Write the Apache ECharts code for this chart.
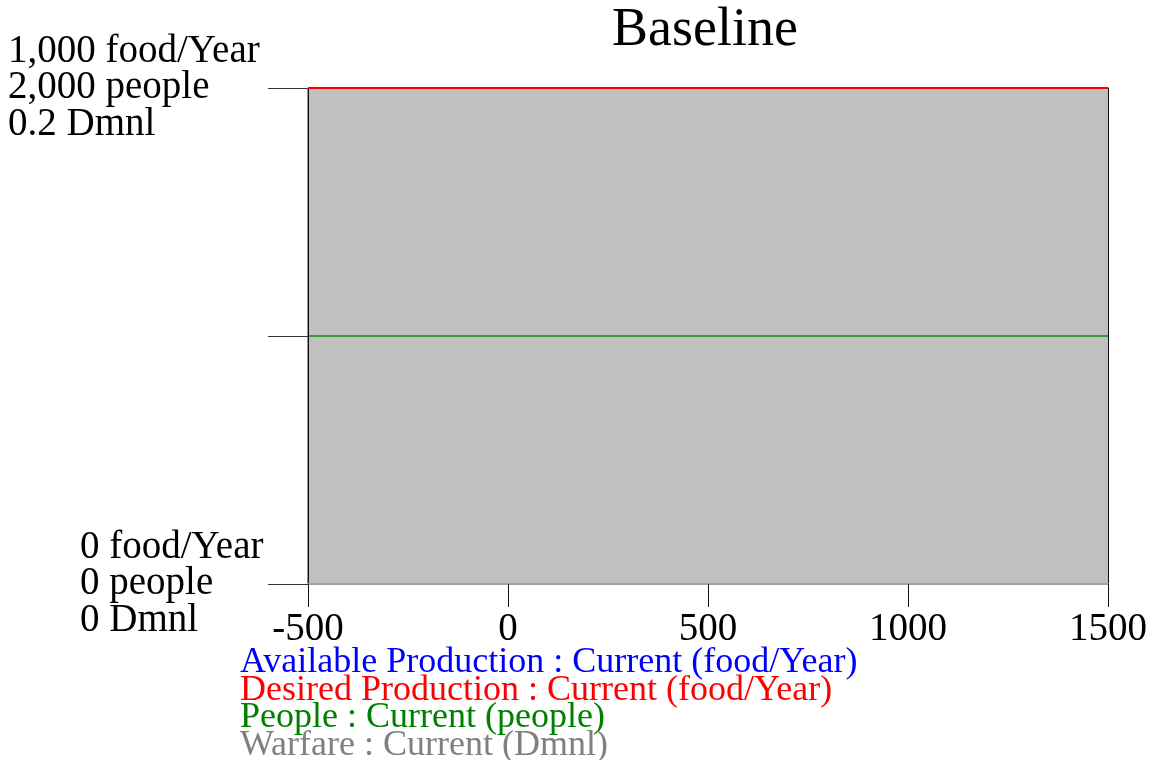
<!DOCTYPE html>
<html>
<head>
<meta charset="utf-8">
<script src="https://cdn.jsdelivr.net/npm/echarts@6/dist/echarts.min.js"></script>
<style>
html,body{margin:0;padding:0;background:#fff;}
#chart{width:1156px;height:760px;}
</style>
</head>
<body>
<div id="chart"></div>
<script>
// ---- data ----
var years = [-500, -250, 0, 250, 500, 750, 1000, 1250, 1500];
var availableProduction = [1000, 1000, 1000, 1000, 1000, 1000, 1000, 1000, 1000];
var desiredProduction   = [1000, 1000, 1000, 1000, 1000, 1000, 1000, 1000, 1000];
var people              = [1000, 1000, 1000, 1000, 1000, 1000, 1000, 1000, 1000];
var warfare             = [0.2, 0.2, 0.2, 0.2, 0.2, 0.2, 0.2, 0.2, 0.2];
var topTickLabels    = ['1,000 food/Year', '2,000 people', '0.2 Dmnl'];
var bottomTickLabels = ['0 food/Year', '0 people', '0 Dmnl'];
var seriesNames = [
  'Available Production : Current (food/Year)',
  'Desired Production : Current (food/Year)',
  'People : Current (people)',
  'Warfare : Current (Dmnl)'
];
var seriesColors = ['#0000ff', '#ff0000', '#008000', '#808080'];

function pairs(xs, ys) { return xs.map(function (x, i) { return [x, ys[i]]; }); }

var FONT = 'Liberation Serif';
var legendTops = [645, 672.5, 700, 727.5];
var chart = echarts.init(document.getElementById('chart'));
chart.setOption({
  animation: false,
  backgroundColor: '#ffffff',
  title: {
    text: 'Baseline',
    left: 612, top: 4, padding: 0,
    textStyle: { fontFamily: FONT, fontSize: 54, fontWeight: 'normal', color: '#000' }
  },
  legend: seriesNames.map(function (n, i) {
    return {
      orient: 'vertical',
      left: 235, top: legendTops[i], padding: 0,
      itemGap: 0, itemWidth: 0, itemHeight: 0,
      itemStyle: { opacity: 0 },
      selectedMode: false,
      textStyle: { fontFamily: FONT, fontSize: 36, lineHeight: 27.5, color: seriesColors[i] },
      data: [{ name: n, icon: 'rect' }]
    };
  }),
  grid: {
    left: 308, right: 48, top: 88, bottom: 176,
    show: true, borderColor: '#222', borderWidth: 1, backgroundColor: 'transparent'
  },
  xAxis: {
    type: 'value', min: -500, max: 1500, interval: 500, z: 5,
    axisLine: { show: true, onZero: false, lineStyle: { color: '#a0a0a0', width: 2 } },
    axisTick: { show: true, length: 23, lineStyle: { color: '#111', width: 1 } },
    axisLabel: {
      margin: 26, fontFamily: FONT, fontSize: 39, color: '#000',
      formatter: function (v) { return String(v); }
    },
    splitLine: { show: false }
  },
  yAxis: [
    {
      type: 'value', min: 0, max: 1000, interval: 500, position: 'left', z: 5,
      axisLine: { show: true, onZero: false, lineStyle: { color: '#111', width: 1 } },
      axisTick: { show: true, length: 40, lineStyle: { color: '#333', width: 1 } },
      axisLabel: {
        show: true, margin: 300, align: 'left', verticalAlign: 'middle',
        padding: [7, 0, 0, 0],
        fontFamily: FONT, fontSize: 39, lineHeight: 36.5, color: '#000',
        formatter: function (v) { return v === 1000 ? topTickLabels.join('\n') : ''; }
      },
      splitLine: { show: false }
    },
    {
      type: 'value', min: 0, max: 2000, interval: 1000, position: 'left',
      axisLine: { show: false, onZero: false }, axisTick: { show: false },
      axisLabel: {
        show: true, margin: 228, align: 'left', verticalAlign: 'middle',
        padding: [8, 0, 0, 0],
        fontFamily: FONT, fontSize: 39, lineHeight: 36.5, color: '#000',
        formatter: function (v) { return v === 0 ? bottomTickLabels.join('\n') : ''; }
      },
      splitLine: { show: false }
    },
    {
      type: 'value', min: 0, max: 0.2, interval: 0.1, position: 'right', z: 5,
      axisLine: { show: true, onZero: false, lineStyle: { color: '#111', width: 1 } },
      axisTick: { show: false },
      axisLabel: { show: false }, splitLine: { show: false }
    }
  ],
  series: [
    {
      name: seriesNames[3], type: 'line', yAxisIndex: 2, showSymbol: false, clip: false,
      data: pairs(years, warfare), z: 1,
      lineStyle: { color: seriesColors[3], width: 1 },
      itemStyle: { color: seriesColors[3] },
      areaStyle: { color: '#c0c0c0', opacity: 1 }
    },
    {
      name: seriesNames[2], type: 'line', yAxisIndex: 1, showSymbol: false, clip: false,
      data: pairs(years, people), z: 3,
      lineStyle: { color: '#109010', width: 1.5 }, itemStyle: { color: seriesColors[2] }
    },
    {
      name: seriesNames[0], type: 'line', yAxisIndex: 0, showSymbol: false, clip: false,
      data: pairs(years, availableProduction), z: 3,
      lineStyle: { color: seriesColors[0], width: 2 }, itemStyle: { color: seriesColors[0] }
    },
    {
      name: seriesNames[1], type: 'line', yAxisIndex: 0, showSymbol: false, clip: false,
      data: pairs(years, desiredProduction), z: 6,
      lineStyle: { color: seriesColors[1], width: 2 }, itemStyle: { color: seriesColors[1] }
    }
  ]
});
</script>
</body>
</html>
